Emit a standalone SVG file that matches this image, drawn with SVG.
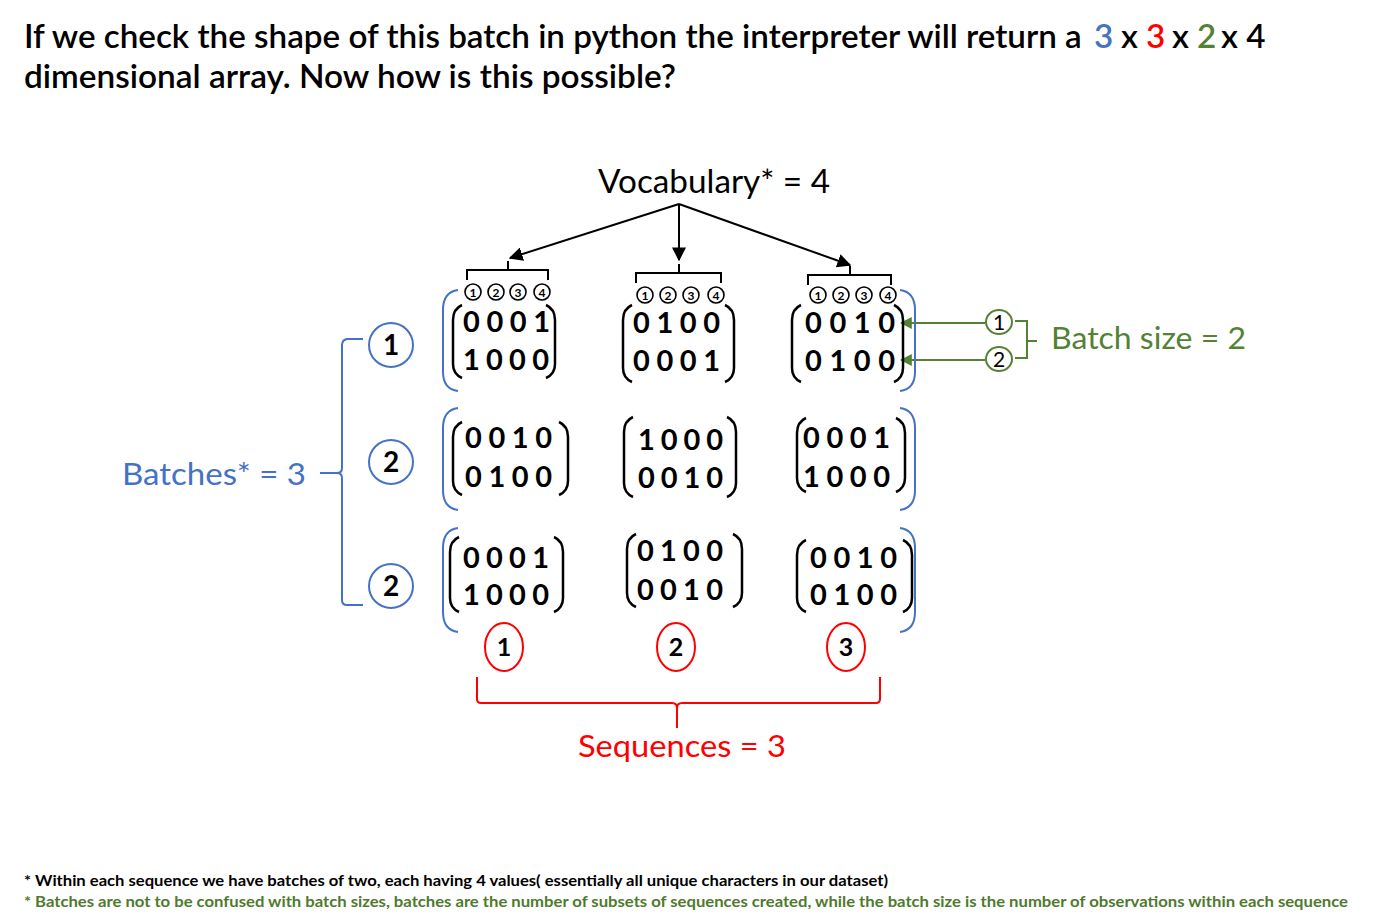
<svg xmlns="http://www.w3.org/2000/svg" width="1400" height="924" viewBox="0 0 1400 924">
<style>
text{font-family:Lato,"Open Sans","Liberation Sans",sans-serif}
.title{font-size:33.2px;fill:#000;font-weight:600}
.big{font-size:33px}
.mx{font-size:29px;font-weight:bold;fill:#000}
.par{fill:none;stroke:#000;stroke-width:2.5}
.bpar{fill:none;stroke:#4472C4;stroke-width:2}
.sc{fill:#fff;stroke:#000;stroke-width:1.6}
.scn{font-size:12px;font-weight:bold;text-anchor:middle}
.blk{fill:none;stroke:#000;stroke-width:2}
.bc{fill:#fff;stroke:#4472C4;stroke-width:2}
.rc{fill:#fff;stroke:#FF0000;stroke-width:2}
.gc{fill:#fff;stroke:#548235;stroke-width:2}
.num{font-weight:bold;text-anchor:middle;fill:#000}
.blue{fill:#4472C4}.red{fill:#FF0000}.green{fill:#548235}
</style>
<defs>
<marker id="ah" viewBox="0 0 10 10" refX="9" refY="5" markerWidth="14" markerHeight="14" markerUnits="userSpaceOnUse" orient="auto"><path d="M0,0 L10,5 L0,10 z" fill="#000"/></marker>
<marker id="gh" viewBox="0 0 10 10" refX="9" refY="5" markerWidth="12" markerHeight="12" markerUnits="userSpaceOnUse" orient="auto"><path d="M0,0 L10,5 L0,10 z" fill="#548235"/></marker>
</defs>
<rect width="1400" height="924" fill="#fff"/>

<g id="title">
<text class="title" x="24" y="48">If we check the shape of this batch in python the interpreter will return a</text>
<text class="title blue" x="1094" y="48">3</text>
<text class="title" x="1121" y="48">x</text>
<text class="title red" x="1146" y="48">3</text>
<text class="title" x="1172" y="48">x</text>
<text class="title green" x="1197" y="48">2</text>
<text class="title" x="1221" y="48">x 4</text>
<text class="title" x="24" y="88" textLength="652" lengthAdjust="spacingAndGlyphs">dimensional array. Now how is this possible?</text>
</g>

<g id="vocabulary">
<text class="big" x="598" y="193" textLength="232" lengthAdjust="spacingAndGlyphs">Vocabulary* = 4</text>
</g>

<g id="connectors">
<path d="M679,204 L510,258" class="blk" marker-end="url(#ah)"/>
<path d="M679,204 L679,260" class="blk" marker-end="url(#ah)"/>
<path d="M679,204 L850,265" class="blk" marker-end="url(#ah)"/>
<path d="M985,323 L901,323" fill="none" stroke="#548235" stroke-width="2" marker-end="url(#gh)"/>
<path d="M985,360 L901,360" fill="none" stroke="#548235" stroke-width="2" marker-end="url(#gh)"/>
</g>

<g id="vocab-brackets">
<path d="M467,280 L467,270 L548,270 L548,280 M508,270 L508,261" class="blk"/>
<path d="M636,283 L636,273 L721,273 L721,283 M679,273 L679,264" class="blk"/>
<path d="M808,285 L808,275 L891,275 L891,285 M850,275 L850,266" class="blk"/>
</g>

<g id="index-circles">
<circle class="sc" cx="473" cy="292" r="8"/><text class="scn" x="473" y="296.5">1</text>
<circle class="sc" cx="496" cy="292" r="8"/><text class="scn" x="496" y="296.5">2</text>
<circle class="sc" cx="518" cy="292" r="8"/><text class="scn" x="518" y="296.5">3</text>
<circle class="sc" cx="542" cy="292" r="8"/><text class="scn" x="542" y="296.5">4</text>
<circle class="sc" cx="645" cy="295" r="8"/><text class="scn" x="645" y="299.5">1</text>
<circle class="sc" cx="668" cy="295" r="8"/><text class="scn" x="668" y="299.5">2</text>
<circle class="sc" cx="691" cy="295" r="8"/><text class="scn" x="691" y="299.5">3</text>
<circle class="sc" cx="716" cy="295" r="8"/><text class="scn" x="716" y="299.5">4</text>
<circle class="sc" cx="818" cy="295" r="8"/><text class="scn" x="818" y="299.5">1</text>
<circle class="sc" cx="841" cy="295" r="8"/><text class="scn" x="841" y="299.5">2</text>
<circle class="sc" cx="864" cy="295" r="8"/><text class="scn" x="864" y="299.5">3</text>
<circle class="sc" cx="888" cy="295" r="8"/><text class="scn" x="888" y="299.5">4</text>
</g>

<g id="batch-brackets">
<path class="bpar" d="M458,290 Q443,292 443,310 L443,372 Q443,389 458,391"/>
<path class="bpar" d="M900,290 Q915,292 915,310 L915,372 Q915,389 900,391"/>
<path class="bpar" d="M458,408 Q443,410 443,428 L443,490 Q443,508 458,510"/>
<path class="bpar" d="M900,408 Q915,410 915,428 L915,490 Q915,508 900,510"/>
<path class="bpar" d="M458,528 Q443,530 443,548 L443,612 Q443,630 458,632"/>
<path class="bpar" d="M900,528 Q915,530 915,548 L915,612 Q915,630 900,632"/>
</g>

<g id="m11"><path class="par" d="M462,305 Q453,309 453,320 L453,364 Q453,374 462,378"/><path class="par" d="M546,305 Q555,309 555,320 L555,364 Q555,374 546,378"/>
<text class="mx" x="463" y="332" textLength="87" lengthAdjust="spacing">0001</text><text class="mx" x="463" y="370" textLength="86" lengthAdjust="spacing">1000</text></g>
<g id="m12"><path class="par" d="M632,305 Q623,309 623,320 L623,368 Q623,378 632,382"/><path class="par" d="M725,305 Q734,309 734,320 L734,368 Q734,378 725,382"/>
<text class="mx" x="633" y="333" textLength="87" lengthAdjust="spacing">0100</text><text class="mx" x="633" y="371" textLength="87" lengthAdjust="spacing">0001</text></g>
<g id="m13"><path class="par" d="M801,305 Q792,309 792,320 L792,368 Q792,378 801,382"/><path class="par" d="M894,305 Q903,309 903,320 L903,368 Q903,378 894,382"/>
<text class="mx" x="805" y="333" textLength="90" lengthAdjust="spacing">0010</text><text class="mx" x="805" y="371" textLength="90" lengthAdjust="spacing">0100</text></g>

<g id="m21"><path class="par" d="M462,422 Q453,426 453,437 L453,481 Q453,491 462,495"/><path class="par" d="M559,422 Q568,426 568,437 L568,481 Q568,491 559,495"/>
<text class="mx" x="465" y="448" textLength="87" lengthAdjust="spacing">0010</text><text class="mx" x="465" y="487" textLength="87" lengthAdjust="spacing">0100</text></g>
<g id="m22"><path class="par" d="M633,417 Q624,421 624,432 L624,483 Q624,493 633,497"/><path class="par" d="M727,417 Q736,421 736,432 L736,483 Q736,493 727,497"/>
<text class="mx" x="638" y="450" textLength="85" lengthAdjust="spacing">1000</text><text class="mx" x="638" y="488" textLength="85" lengthAdjust="spacing">0010</text></g>
<g id="m23"><path class="par" d="M806,418 Q797,422 797,433 L797,478 Q797,488 806,492"/><path class="par" d="M896,418 Q905,422 905,433 L905,478 Q905,488 896,492"/>
<text class="mx" x="803" y="448" textLength="87" lengthAdjust="spacing">0001</text><text class="mx" x="803" y="487" textLength="87" lengthAdjust="spacing">1000</text></g>

<g id="m31"><path class="par" d="M459,537 Q450,541 450,552 L450,598 Q450,608 459,612"/><path class="par" d="M554,537 Q563,541 563,552 L563,598 Q563,608 554,612"/>
<text class="mx" x="463" y="568" textLength="86" lengthAdjust="spacing">0001</text><text class="mx" x="463" y="605" textLength="86" lengthAdjust="spacing">1000</text></g>
<g id="m32"><path class="par" d="M636,534 Q627,538 627,549 L627,593 Q627,603 636,607"/><path class="par" d="M733,534 Q742,538 742,549 L742,593 Q742,603 733,607"/>
<text class="mx" x="637" y="561" textLength="86" lengthAdjust="spacing">0100</text><text class="mx" x="637" y="600" textLength="86" lengthAdjust="spacing">0010</text></g>
<g id="m33"><path class="par" d="M806,540 Q797,544 797,555 L797,598 Q797,608 806,612"/><path class="par" d="M903,540 Q912,544 912,555 L912,598 Q912,608 903,612"/>
<text class="mx" x="810" y="568" textLength="87" lengthAdjust="spacing">0010</text><text class="mx" x="810" y="605" textLength="87" lengthAdjust="spacing">0100</text></g>

<g id="batches">
<path d="M363,339 L347,339 Q342,340 342,345 L342,468 Q342,473 337,473 L320,473 M337,473 Q342,473 342,478 L342,600 Q342,605 347,605 L363,605" fill="none" stroke="#4472C4" stroke-width="2"/>
<circle class="bc" cx="391" cy="345" r="22"/><text class="num" x="391" y="355" font-size="28">1</text>
<circle class="bc" cx="391" cy="462" r="22"/><text class="num" x="391" y="472" font-size="28">2</text>
<circle class="bc" cx="391" cy="586" r="22"/><text class="num" x="391" y="596" font-size="28">2</text>
<text class="blue" x="122" y="485" font-size="31" textLength="184" lengthAdjust="spacingAndGlyphs">Batches* = 3</text>
</g>

<g id="sequences">
<ellipse class="rc" cx="504" cy="647" rx="19" ry="24"/><text class="num" x="504" y="656" font-size="25">1</text>
<ellipse class="rc" cx="676" cy="647" rx="19" ry="24"/><text class="num" x="676" y="656" font-size="25">2</text>
<ellipse class="rc" cx="846" cy="647" rx="19" ry="24"/><text class="num" x="846" y="656" font-size="25">3</text>
<path d="M477,677 L477,699 Q477,703 481,703 L672,703 Q677,703 677,708 L677,728 M677,708 Q677,703 682,703 L876,703 Q880,703 880,699 L880,677" fill="none" stroke="#FF0000" stroke-width="2"/>
<text class="red" x="578" y="757" font-size="31" textLength="208" lengthAdjust="spacingAndGlyphs">Sequences = 3</text>
</g>

<g id="batch-size">
<ellipse class="gc" cx="999" cy="322" rx="13" ry="12"/><text x="999" y="330" font-size="21" text-anchor="middle">1</text>
<ellipse class="gc" cx="999" cy="359" rx="13" ry="12"/><text x="999" y="367" font-size="21" text-anchor="middle">2</text>
<path d="M1015,321 L1027,321 L1027,358 L1015,358 M1027,341 L1037,341" fill="none" stroke="#548235" stroke-width="2"/>
<text class="green" x="1051" y="349" font-size="31" textLength="195" lengthAdjust="spacingAndGlyphs">Batch size = 2</text>
</g>

<g id="footnotes">
<text x="24" y="886" font-size="15" font-weight="bold" textLength="864" lengthAdjust="spacingAndGlyphs">* Within each sequence we have batches of two, each having 4 values( essentially all unique characters in our dataset)</text>
<text x="24" y="907" font-size="15" font-weight="bold" fill="#4E7A2E" textLength="1324" lengthAdjust="spacingAndGlyphs">* Batches are not to be confused with batch sizes, batches are the number of subsets of sequences created, while the batch size is the number of observations within  each sequence</text>
</g>
</svg>
